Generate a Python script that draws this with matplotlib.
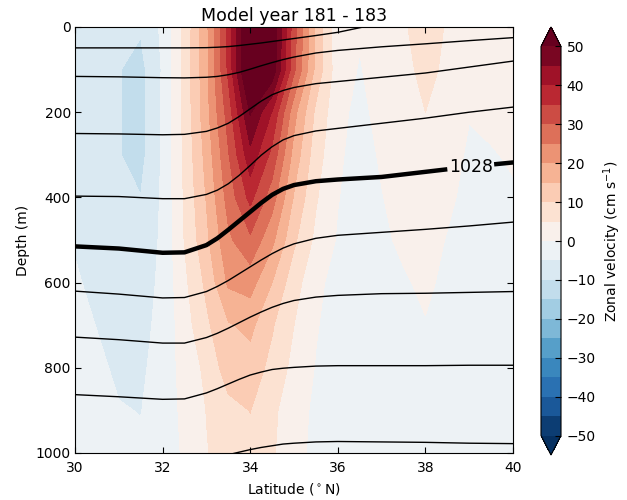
import numpy as np
import matplotlib
matplotlib.use('Agg')
import matplotlib.pyplot as plt

# grid (latitude in degN, depth in m)
lat = [30, 30.5, 31, 31.5, 32, 32.5, 33, 33.5, 34, 34.5, 35,
       35.5, 36, 36.5, 37, 37.5, 38, 38.5, 39, 39.5, 40]
depth = [0, 100, 200, 300, 400, 500, 600, 700, 800, 900, 1000]

# zonal velocity (cm/s), one row per depth level
u_0000 = [-7, -8, -9, -9.5, -4, 6.3, 18.7, 36.7, 59, 54.5, 32,
          14.2, 1.0, 0.5, 2.5, 4.5, 7, 4.6, 3, 2, 1.5]
u_0100 = [-7.5, -8.5, -9.8, -11.5, -4.5, 6.75, 18.5, 36, 60, 54, 31,
          13.5, 2, -0.3, 2, 4, 6, 4.3, 2.5, 1.5, 1]
u_0200 = [-8, -9, -9.8, -11.5, -4.3, 6.45, 18.2, 32.3, 50.5, 39.7, 21.7,
          8.9, 1.5, -1.5, 1.9, 3.5, 5, 3.5, 0.3, 1, 0.8]
u_0300 = [-8, -9.3, -9.8, -11.5, -4.3, 6.0, 16.7, 29.5, 43.5, 33.5, 18.1,
          7.2, 0.8, -2, 0.6, 2.7, 4, 2.3, -0.8, -0.3, 0.5]
u_0400 = [-7, -8.3, -9.6, -9.9, -4.2, 5.6, 15.3, 27, 36.5, 27.3, 14.5,
          5.5, 0.2, -2.3, -0.2, 1.8, 3, 1, -1.5, -1.2, -0.5]
u_0500 = [-5.5, -7, -8, -8, -4.2, 5.2, 13.8, 24, 29, 21.2, 10.9,
          3.8, -0.5, -2.5, -1, 1, 2, -0.3, -2, -1.8, -1.2]
u_0600 = [-4.3, -6.5, -7.5, -7, -4, 3.9, 11.1, 20.8, 22, 15, 7,
          1.4, -2.1, -2.8, -2.5, -0.6, 1, -1.2, -2.5, -2.3, -2]
u_0700 = [-3.8, -5.1, -6.5, -6.2, -3.8, 2.8, 9, 14.5, 16.3, 10.5, 5,
          0.4, -2.4, -3, -2.8, -1, -0.3, -1.8, -2.6, -2.5, -2.3]
u_0800 = [-3.4, -4.3, -5.6, -5.6, -3.5, 2.15, 6, 12.7, 12.8, 8.5, 3.5,
          -0.3, -2.5, -3, -3, -2, -1.2, -2, -2.6, -2.5, -2.3]
u_0900 = [-3, -3.8, -4.8, -5.1, -3.2, 1.37, 5.1, 8.3, 10.1, 6.3, 1.5,
          -0.7, -2.5, -3, -3, -2.5, -2, -2.2, -2.6, -2.5, -2.3]
u_1000 = [-2.8, -3.4, -4.2, -4.4, -3, 0.75, 4.7, 7.5, 8.5, 5.7, 1.0,
          -0.8, -2.5, -2.8, -2.8, -2.6, -2.3, -2.3, -2.5, -2.4, -2.2]

# isopycnal depths (m)
nan = np.nan
iso_lat = [30, 31, 32, 32.5, 33, 33.25, 33.5, 33.75, 34, 34.25, 34.5,
           34.75, 35, 35.5, 36, 37, 38, 39, 40]
iso_1 = [49, 49, 49, 49, 48.5, 47.5, 46, 43.5, 40.5, 37.5, 34,
         30.5, 27, 20, 12.5, -9, nan, nan, nan]
iso_2 = [116, 117, 119, 119.5, 118, 116, 112, 106.5, 99, 91, 83.5,
         76.5, 70.5, 61, 55, 46.5, 39.5, 32, 25]
iso_3 = [250, 251, 253, 252, 245, 237, 226, 210, 192, 174, 159,
         149, 142, 133, 128, 118, 108, 94, 80]
iso_4 = [397, 398, 403, 403, 393, 383, 368, 348, 325, 301, 281,
         265, 255, 244, 238, 226, 214, 200, 188]
iso_1028 = [515, 520, 530, 529, 512, 496, 476, 455, 434, 413, 394,
            380, 371, 362, 358, 352, 340, 328, 318]
iso_6 = [620, 627, 636, 635, 621, 609, 595, 579, 563, 547, 532,
         519, 509, 496, 489, 482, 475, 467, 458]
iso_7 = [728, 734, 742, 742, 729, 719, 707, 694, 681, 669, 658,
         649, 642, 634, 630, 626, 625, 623, 621]
iso_8 = [863, 868, 874, 873, 859, 849, 838, 827, 817, 810, 804,
         801, 799, 796, 795, 795, 795, 794, 794]
iso_9 = [nan, nan, nan, nan, 1016, 1010, 1004, 998, 992, 987, 983,
         979, 977, 974, 973, 974, 975, 977, 978]

label_lat = 39.05
label_gap = (38.45, 39.62)

u = np.array([u_0000, u_0100, u_0200, u_0300, u_0400, u_0500,
              u_0600, u_0700, u_0800, u_0900, u_1000])

fig = plt.figure(figsize=(6.27, 5.0), dpi=100)
ax = fig.add_axes([75 / 627, 47 / 500, 438 / 627, 426 / 500])

cf = ax.contourf(lat, depth, u, levels=np.arange(-50, 51, 5),
                 cmap='RdBu_r', extend='both')

for iso in [iso_1, iso_2, iso_3, iso_4, iso_6, iso_7, iso_8, iso_9]:
    ax.plot(iso_lat, iso, color='k', lw=1.0)

# thick reference isopycnal, broken where its label sits
x = np.array(iso_lat, dtype=float)
z = np.array(iso_1028, dtype=float)
left = x <= label_gap[0]
right = x >= label_gap[1]
ax.plot(np.append(x[left], label_gap[0]),
        np.append(z[left], np.interp(label_gap[0], x, z)),
        color='k', lw=3.2)
ax.plot(np.insert(x[right], 0, label_gap[1]),
        np.insert(z[right], 0, np.interp(label_gap[1], x, z)),
        color='k', lw=3.2)
ax.text(label_lat, np.interp(label_lat, x, z), '1028', fontsize=12.5,
        ha='center', va='center')

ax.set_xlim(30, 40)
ax.set_ylim(1000, 0)
ax.set_xticks(np.arange(30, 41, 2))
ax.set_yticks(np.arange(0, 1001, 200))
ax.tick_params(direction='in', top=True, right=True, length=4,
               labelsize=10, colors='k')
ax.tick_params(axis='x', pad=6)
ax.tick_params(axis='y', pad=3)
ax.set_xlabel('Latitude ($^\\circ$N)', fontsize=10)
ax.set_ylabel('Depth (m)', fontsize=10)
ax.yaxis.set_label_coords(-0.103, 0.5)
ax.set_title('Model year 181 - 183', fontsize=12.5, pad=4.5)

cax = fig.add_axes([541 / 627, 45 / 500, 20 / 627, 428 / 500])
cb = fig.colorbar(cf, cax=cax, ticks=np.arange(-50, 51, 10))
cb.ax.tick_params(direction='in', length=4, labelsize=10, pad=4)
cb.set_label('Zonal velocity (cm s$^{-1}$)', fontsize=10)

fig.savefig('out.png', dpi=100)
